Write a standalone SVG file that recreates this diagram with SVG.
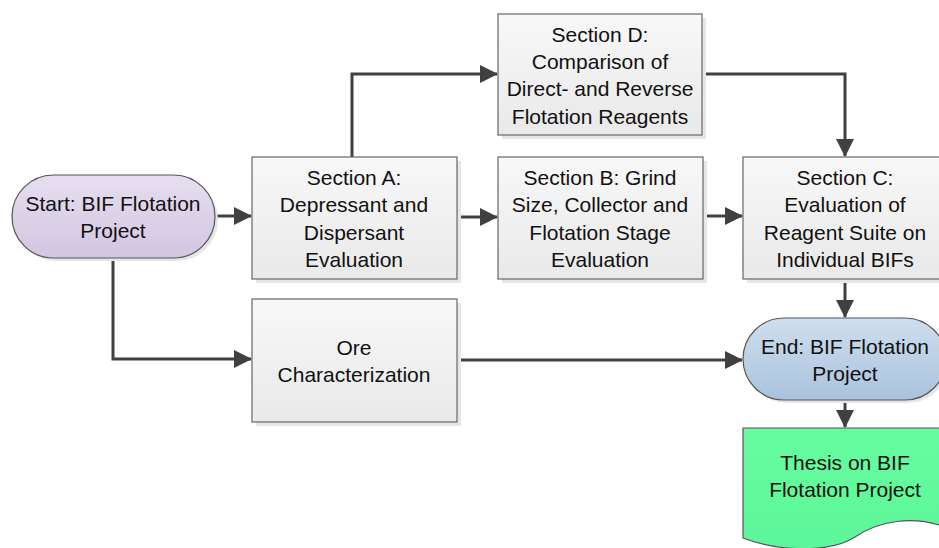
<svg xmlns="http://www.w3.org/2000/svg" width="939" height="548" viewBox="0 0 939 548">
<style>
text{font-family:"Liberation Sans",Arial,sans-serif;font-size:21px;fill:#111;text-anchor:middle}
.box{fill:url(#gBox);stroke:#666;stroke-width:1.2}
.sh{fill:#e6e6e6}
.conn{fill:none;stroke:#404040;stroke-width:3;marker-end:url(#arr)}
</style>
<defs>
<linearGradient id="gBox" x1="0" y1="0" x2="0" y2="1"><stop offset="0" stop-color="#f8f8f8"/><stop offset="1" stop-color="#e9e9e9"/></linearGradient>
<linearGradient id="gStart" x1="0" y1="0" x2="0" y2="1"><stop offset="0" stop-color="#e6def0"/><stop offset="1" stop-color="#d2c6e0"/></linearGradient>
<linearGradient id="gEnd" x1="0" y1="0" x2="0" y2="1"><stop offset="0" stop-color="#cfdeee"/><stop offset="1" stop-color="#a9c3dd"/></linearGradient>
<linearGradient id="gDoc" x1="0" y1="0" x2="0" y2="1"><stop offset="0" stop-color="#66fd9f"/><stop offset="1" stop-color="#5cf69a"/></linearGradient>
<marker id="arr" markerUnits="userSpaceOnUse" markerWidth="18" markerHeight="18" refX="17" refY="9" orient="auto" viewBox="0 0 18 18"><path d="M0,0 L18,9 L0,18 z" fill="#404040"/></marker>
</defs>
<g id="connectors">
<path class="conn" d="M215,216 H251"/>
<path class="conn" d="M457,217 H497"/>
<path class="conn" d="M703,216 H742"/>
<path class="conn" d="M352,157 V74 H497"/>
<path class="conn" d="M702,74 H845 V156"/>
<path class="conn" d="M845,279 V317"/>
<path class="conn" d="M845,400 V427"/>
<path class="conn" d="M113,258 V359 H251"/>
<path class="conn" d="M457,360 H742"/>
</g>
<g id="start">
<rect x="15" y="178" width="203" height="83" rx="41.5" class="sh"/>
<rect x="12" y="175" width="203" height="83" rx="41.5" fill="url(#gStart)" stroke="#555" stroke-width="1.2"/>
<text x="113" y="211">Start: BIF Flotation</text>
<text x="113" y="238">Project</text>
</g>
<g id="sectionA">
<rect x="256" y="161" width="205" height="122" class="sh"/>
<rect x="252" y="157" width="205" height="122" class="box"/>
<text x="354" y="185">Section A:</text>
<text x="354" y="212">Depressant and</text>
<text x="354" y="240">Dispersant</text>
<text x="354" y="267">Evaluation</text>
</g>
<g id="sectionB">
<rect x="502" y="161" width="205" height="122" class="sh"/>
<rect x="498" y="157" width="205" height="122" class="box"/>
<text x="600" y="185">Section B: Grind</text>
<text x="600" y="212">Size, Collector and</text>
<text x="600" y="240">Flotation Stage</text>
<text x="600" y="267">Evaluation</text>
</g>
<g id="sectionC">
<rect x="747" y="161" width="205" height="122" class="sh"/>
<rect x="743" y="157" width="205" height="122" class="box"/>
<text x="845" y="185">Section C:</text>
<text x="845" y="212">Evaluation of</text>
<text x="845" y="240">Reagent Suite on</text>
<text x="845" y="267">Individual BIFs</text>
</g>
<g id="sectionD">
<rect x="502" y="18" width="204" height="121" class="sh"/>
<rect x="498" y="14" width="204" height="121" class="box"/>
<text x="600" y="42">Section D:</text>
<text x="600" y="69">Comparison of</text>
<text x="600" y="96">Direct- and Reverse</text>
<text x="600" y="124">Flotation Reagents</text>
</g>
<g id="ore">
<rect x="256" y="303" width="205" height="123" class="sh"/>
<rect x="252" y="299" width="205" height="123" class="box"/>
<text x="354" y="355">Ore</text>
<text x="354" y="382">Characterization</text>
</g>
<g id="end">
<rect x="746" y="321" width="203" height="82" rx="41" class="sh"/>
<rect x="743" y="318" width="203" height="82" rx="41" fill="url(#gEnd)" stroke="#555" stroke-width="1.2"/>
<text x="845" y="354">End: BIF Flotation</text>
<text x="845" y="381">Project</text>
</g>
<g id="thesis">
<path d="M743,428 H948 V528 C915,515 880,520 855,537 C830,553 780,552 743,538 Z" fill="url(#gDoc)" stroke="#555" stroke-width="1.2"/>
<text x="845" y="470">Thesis on BIF</text>
<text x="845" y="497">Flotation Project</text>
</g>
</svg>
